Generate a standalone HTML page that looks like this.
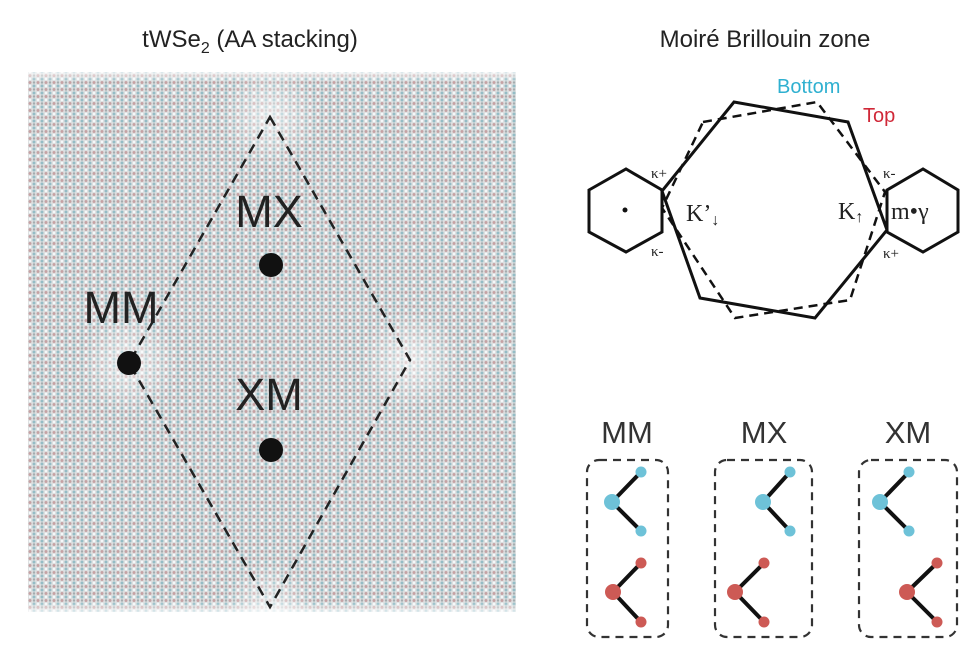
<!DOCTYPE html>
<html><head><meta charset="utf-8"><style>
html,body{margin:0;padding:0;background:#fff;}
svg{display:block;}
</style></head><body>
<svg width="974" height="656" viewBox="0 0 974 656" xmlns="http://www.w3.org/2000/svg" font-family="Liberation Sans, sans-serif">
<defs>
<pattern id="lat" width="8" height="7" patternUnits="userSpaceOnUse">
<rect width="8" height="7" fill="#dcdfe0"/>
<circle cx="2" cy="2" r="1.5" fill="#94bcc5"/>
<circle cx="6" cy="5.5" r="1.5" fill="#c6a2a4"/>
<circle cx="6" cy="2" r="1.2" fill="#f6f9fa"/>
<circle cx="2" cy="5.5" r="1.2" fill="#a4acae"/>
</pattern>
<radialGradient id="glow">
<stop offset="0" stop-color="#fff" stop-opacity="0.6"/>
<stop offset="1" stop-color="#fff" stop-opacity="0"/>
</radialGradient>
<linearGradient id="fadeT" x1="0" y1="0" x2="0" y2="1">
<stop offset="0" stop-color="#fff" stop-opacity="0.7"/>
<stop offset="1" stop-color="#fff" stop-opacity="0"/>
</linearGradient>
</defs>
<text x="250" y="47" font-size="24" text-anchor="middle" fill="#222">tWSe<tspan font-size="16" dy="6">2</tspan><tspan dy="-6"> (AA stacking)</tspan></text>
<text x="765" y="47" font-size="24" text-anchor="middle" fill="#222">Moiré Brillouin zone</text>

<rect x="28" y="72" width="488" height="540" fill="url(#lat)"/>
<rect x="28" y="72" width="488" height="10" fill="url(#fadeT)"/>
<rect x="28" y="602" width="488" height="10" fill="url(#fadeT)" transform="rotate(180 272 607)"/>
<circle cx="270" cy="117" r="50" fill="url(#glow)"/>
<circle cx="410" cy="360" r="50" fill="url(#glow)"/>
<circle cx="129" cy="363" r="50" fill="url(#glow)"/>
<circle cx="270" cy="607" r="45" fill="url(#glow)"/>
<polygon points="270,117 410,360 270,607 129,363" fill="none" stroke="#222" stroke-width="2.5" stroke-dasharray="10,7"/>
<circle cx="129" cy="363" r="12" fill="#111"/>
<circle cx="271" cy="265" r="12" fill="#111"/>
<circle cx="271" cy="450" r="12" fill="#111"/>
<text x="121" y="323" font-size="45" text-anchor="middle" fill="#222">MM</text>
<text x="269" y="227" font-size="45" text-anchor="middle" fill="#222">MX</text>
<text x="269" y="410" font-size="45" text-anchor="middle" fill="#222">XM</text>

<g fill="none" stroke="#111" stroke-width="3">
<polygon points="734,102 848,122 887,230 815,318 700,298 662,191"/>
<polygon points="589,190 626,169 662,190 662,232 626,252 589,232"/>
<polygon points="887,190 923,169 958,190 958,232 923,252 887,232"/>
<polygon points="703,122 817,102 885,192 850,300 735,318 662,208" stroke-width="2.5" stroke-dasharray="9,6"/>
</g>
<circle cx="625" cy="210" r="2.5" fill="#111"/>
<text x="777" y="93" font-size="20" fill="#2fb0d0">Bottom</text>
<text x="863" y="122" font-size="20" fill="#d02838">Top</text>
<g font-family="Liberation Serif, serif" fill="#222">
<text x="686" y="221" font-size="24">K’<tspan font-size="16" dy="4">↓</tspan></text>
<text x="838" y="219" font-size="24">K<tspan font-size="16" dy="3">↑</tspan></text>
<text x="891" y="219" font-size="24">m•γ</text>
<text x="651" y="178" font-size="15">κ+</text>
<text x="651" y="256" font-size="15">κ-</text>
<text x="883" y="178" font-size="15">κ-</text>
<text x="883" y="258" font-size="15">κ+</text>
</g>

<g font-size="31" fill="#333" text-anchor="middle">
<text x="627" y="443">MM</text>
<text x="764" y="443">MX</text>
<text x="908" y="443">XM</text>
</g>
<g fill="none" stroke="#333" stroke-width="2.2" stroke-dasharray="8,6">
<rect x="587" y="460" width="81" height="177" rx="12"/>
<rect x="715" y="460" width="97" height="177" rx="12"/>
<rect x="859" y="460" width="98" height="177" rx="12"/>
</g>
<g stroke="#111" stroke-width="4">
<path d="M612,502 L641,472 M612,502 L641,531 M613,592 L641,563 M613,592 L641,622"/>
<path d="M763,502 L790,472 M763,502 L790,531 M735,592 L764,563 M735,592 L764,622"/>
<path d="M880,502 L909,472 M880,502 L909,531 M907,592 L937,563 M907,592 L937,622"/>
</g>
<g fill="#6ec2d8">
<circle cx="612" cy="502" r="8"/><circle cx="641" cy="472" r="5.5"/><circle cx="641" cy="531" r="5.5"/>
<circle cx="763" cy="502" r="8"/><circle cx="790" cy="472" r="5.5"/><circle cx="790" cy="531" r="5.5"/>
<circle cx="880" cy="502" r="8"/><circle cx="909" cy="472" r="5.5"/><circle cx="909" cy="531" r="5.5"/>
</g>
<g fill="#cd5a55">
<circle cx="613" cy="592" r="8"/><circle cx="641" cy="563" r="5.5"/><circle cx="641" cy="622" r="5.5"/>
<circle cx="735" cy="592" r="8"/><circle cx="764" cy="563" r="5.5"/><circle cx="764" cy="622" r="5.5"/>
<circle cx="907" cy="592" r="8"/><circle cx="937" cy="563" r="5.5"/><circle cx="937" cy="622" r="5.5"/>
</g>
</svg>
</body></html>
